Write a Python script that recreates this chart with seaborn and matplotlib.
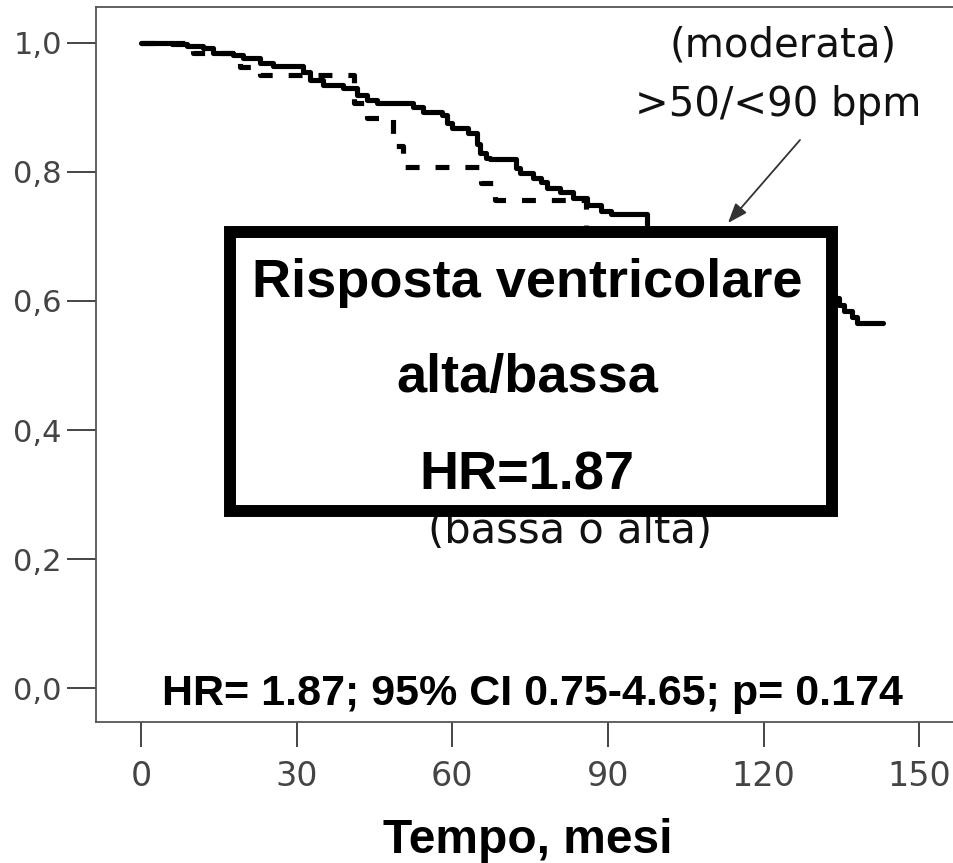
import numpy as np
import pandas as pd
import matplotlib
matplotlib.use('Agg')
import matplotlib.pyplot as plt
import matplotlib.patches as mpatches
import seaborn as sns

# Kaplan-Meier curves (tempo in mesi, sopravvivenza)
t_moderata = [0, 6.0, 8.9, 12.0, 13.9, 17.8, 19.7, 23.0, 25.5, 31.3, 32.6, 35.1,
              39.0, 41.7, 43.6, 45.5, 52.5, 54.4, 58.1, 59.0, 60.0, 63.1, 64.8,
              65.4, 66.4, 67.3, 72.2, 73.1, 75.6, 77.1, 78.3, 80.8, 83.3, 86.0,
              88.6, 90.5, 97.6, 105, 112, 120, 127, 131, 134.5, 135.5, 137, 138, 143]
s_moderata = [1.0, 0.998, 0.995, 0.992, 0.984, 0.981, 0.977, 0.969, 0.964, 0.955,
              0.943, 0.935, 0.930, 0.919, 0.912, 0.907, 0.901, 0.893, 0.888, 0.876,
              0.868, 0.860, 0.843, 0.829, 0.822, 0.820, 0.806, 0.798, 0.790, 0.784,
              0.775, 0.769, 0.760, 0.749, 0.740, 0.735, 0.710, 0.690, 0.665, 0.640,
              0.620, 0.605, 0.594, 0.585, 0.575, 0.566, 0.566]

t_bassa_alta = [0, 10, 19, 23, 41, 43.5, 48.6, 50.5, 65.5, 68.3, 85.7, 92, 100, 106, 112]
s_bassa_alta = [1.0, 0.984, 0.963, 0.950, 0.907, 0.884, 0.840, 0.808, 0.783, 0.757,
                0.700, 0.650, 0.600, 0.520, 0.450]

x_ticks = [0, 30, 60, 90, 120, 150]
y_ticks = [0.0, 0.2, 0.4, 0.6, 0.8, 1.0]
y_labels = ['0,0', '0,2', '0,4', '0,6', '0,8', '1,0']

df = pd.concat([
    pd.DataFrame({'tempo': t_moderata, 'surv': s_moderata, 'gruppo': 'moderata'}),
    pd.DataFrame({'tempo': t_bassa_alta, 'surv': s_bassa_alta, 'gruppo': 'bassa o alta'}),
])

sns.set_style('white')
plt.rcParams['font.family'] = ['DejaVu Sans']
plt.rcParams['lines.scale_dashes'] = False

W, H = 954, 863
fig = plt.figure(figsize=(W / 100, H / 100), dpi=100)
ax = fig.add_axes([96 / W, 1 - 722 / H, (955 - 96) / W, (722 - 7) / H])


def px(x, y):
    # image pixel -> figure fraction
    return x / W, 1 - y / H


sns.lineplot(data=df, x='tempo', y='surv', style='gruppo',
             dashes={'moderata': '', 'bassa o alta': (10, 11.5)},
             color='black', linewidth=3.7, drawstyle='steps-post',
             estimator=None, sort=False, legend=False, ax=ax)

ax.set_xlim(-8.68, 156.9)
ax.set_ylim(-0.0527, 1.0558)
ax.set_xticks(x_ticks)
ax.set_yticks(y_ticks)
ax.set_yticklabels(y_labels)
ax.set_ylabel('')

for s in ax.spines.values():
    s.set_color('#555555')
    s.set_linewidth(1.3)

ax.tick_params(axis='y', direction='out', length=21, width=1.4, color='#444444',
               labelsize=22, labelcolor='#444444', pad=3.5, left=True)
ax.tick_params(axis='x', direction='out', length=18, width=1.4, color='#444444',
               labelsize=24, labelcolor='#444444', pad=9, bottom=True)

ax.set_xlabel('Tempo, mesi', family='Liberation Sans', fontweight='bold',
              fontsize=34.5, va='baseline', color='black')
ax.xaxis.set_label_coords((527 - 96) / 858, (722 - 853) / 715)

ax.text((531.5 - 96) / 858, (722 - 705) / 715,
        'HR= 1.87; 95% CI 0.75-4.65; p= 0.174', transform=ax.transAxes,
        family='Liberation Sans', fontweight='bold', fontsize=31, color='black',
        ha='center', va='baseline')

# group labels
fig.text(*px(783, 56), '(moderata)', fontsize=29, ha='center', va='baseline', color='#111111')
fig.text(*px(778, 116), '>50/<90 bpm', fontsize=29, ha='center', va='baseline', color='#111111')
fig.text(*px(570, 543), '(bassa o alta)', fontsize=30, ha='center', va='baseline',
         color='#111111', zorder=3)

ax.annotate('', xy=(728, H - 223), xytext=(800, H - 140),
            xycoords='figure pixels', textcoords='figure pixels',
            arrowprops=dict(arrowstyle='-|>,head_length=0.8,head_width=0.3',
                            mutation_scale=15, color='#333333', lw=1.3,
                            shrinkA=0, shrinkB=0))

# boxed label
x0, y0 = px(230, 511)
box = mpatches.Rectangle((x0, y0), (831.5 - 230) / W, (511 - 232) / H,
                         transform=fig.transFigure, facecolor='white',
                         edgecolor='black', linewidth=8.6, joinstyle='miter',
                         zorder=5, clip_on=False)
fig.add_artist(box)
for txt, yb in [('Risposta ventricolare', 297), ('alta/bassa', 392), ('HR=1.87', 489)]:
    fig.text(*px(527, yb), txt, family='Liberation Sans', fontweight='bold',
             fontsize=39, ha='center', va='baseline', color='black', zorder=6)

fig.savefig('out.png', dpi=100)
